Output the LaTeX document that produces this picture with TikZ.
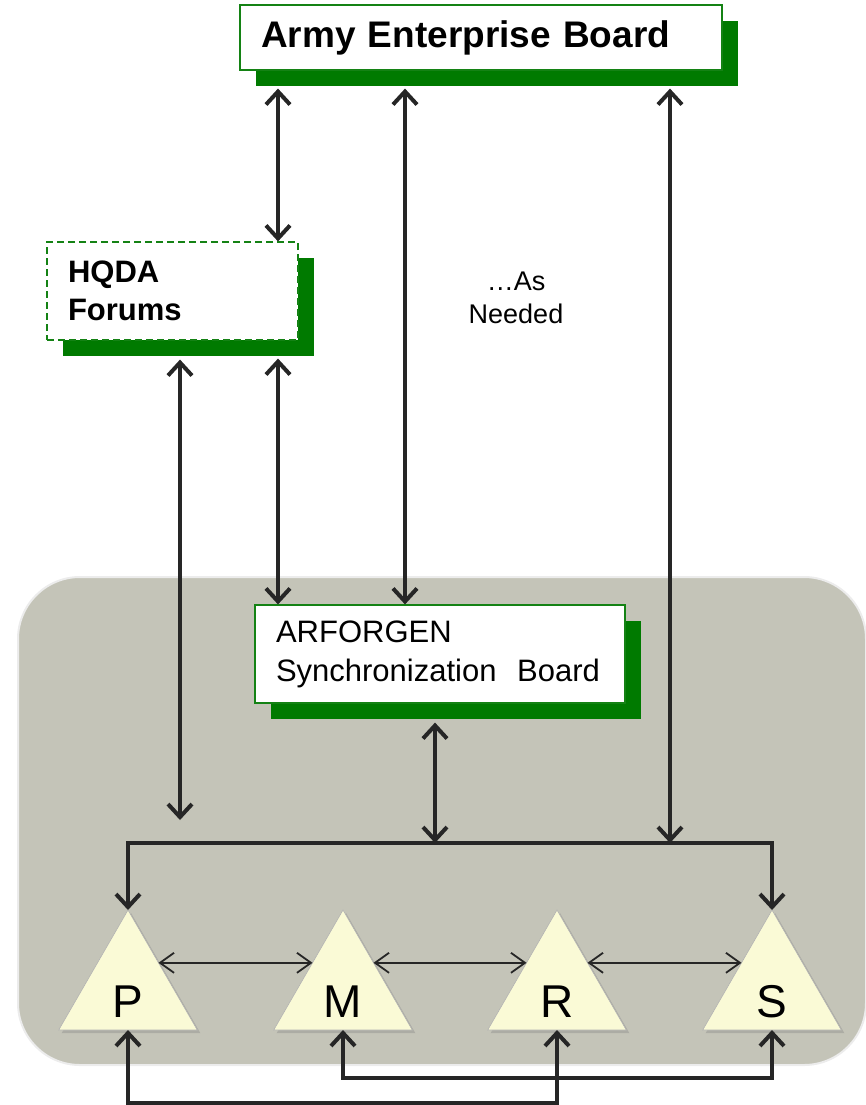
\documentclass[tikz,border=0pt]{standalone}
\usepackage{fontspec}
\setmainfont{Liberation Sans}
\usepackage{tikz}
\usetikzlibrary{arrows.meta, positioning, shapes.geometric, shadows, calc}
\definecolor{boardgreen}{RGB}{20,130,20}
\definecolor{shadegreen}{RGB}{0,122,0}
\definecolor{panelgray}{RGB}{196,196,184}
\definecolor{trifill}{RGB}{250,250,214}
\definecolor{linegray}{RGB}{38,38,38}

\tikzset{
  board/.style={draw=boardgreen, line width=1.2pt, fill=white, align=left,
    inner xsep=21pt, inner ysep=0pt,
    general shadow={fill=shadegreen, shadow xshift=16pt, shadow yshift=-16pt}},
  forum/.style={board, dash pattern=on 7pt off 4pt},
  tri/.style={regular polygon, regular polygon sides=3, minimum size=160pt,
    inner sep=0pt, outer sep=0pt, fill=trifill, draw=gray!60, line width=0.6pt,
    drop shadow={opacity=0.35, shadow xshift=3pt, shadow yshift=-3pt}},
  letter/.style={font=\fontsize{46}{46}\selectfont, yshift=-12pt},
  link/.style={draw=linegray, line width=4pt,
    {Straight Barb[length=13pt,width=24pt]}-{Straight Barb[length=13pt,width=24pt]}},
  peer/.style={draw=linegray, line width=1.8pt,
    {Straight Barb[length=14pt,width=20pt]}-{Straight Barb[length=14pt,width=20pt]}}
}

\begin{document}
\begin{tikzpicture}[x=1pt, y=-1pt]
    \useasboundingbox (0,0) rectangle (865,1105);
    % grey working area
    \fill[panelgray, draw=gray!15, line width=2pt, rounded corners=62pt] (18,577) rectangle (866,1065);

    \node[board, font=\bfseries\fontsize{37}{42}\selectfont, text width=440pt, minimum height=65pt] (AEB) at (481,37.5) {Army Enterprise Board};
    \node[forum, font=\bfseries\fontsize{31}{38}\selectfont, text width=209pt, minimum height=98pt] (HQDA) at (172.5,291) {HQDA\\Forums};
    \node[board, font=\fontsize{31}{39}\selectfont, text width=328pt, minimum height=98pt] (ASB) at (440,654) {ARFORGEN\\Synchronization~ Board};
    \node[font=\fontsize{27}{33}\selectfont, align=center] (N) at (516,298) {…As\\Needed};

    \node[tri, label={[letter]center:P}] (P) at (128,990) {};
    \node[tri, label={[letter]center:M}] (M) at (343,990) {};
    \node[tri, label={[letter]center:R}] (R) at (557,990) {};
    \node[tri, label={[letter]center:S}] (S) at (772,990) {};

    \coordinate (colA) at (180,0);
    \coordinate (colB) at (278,0);
    \coordinate (colC) at (405,0);
    \coordinate (colD) at (435,0);
    \coordinate (colE) at (670,0);
    \coordinate (endA) at (180,820);
    \coordinate (bus) at (435,843);
    \coordinate (lowPR) at (0,1103);
    \coordinate (lowMS) at (0,1078);

    % board links
    \draw[link, shorten <=18pt] (AEB.south -| colB) -- (HQDA.north -| colB);
    \draw[link, shorten <=18pt] (AEB.south -| colC) -- (ASB.north -| colC);
    \draw[link, shorten <=18pt] (AEB.south -| colE) -- (bus -| colE);
    \draw[link, shorten <=19pt] (HQDA.south -| colA) -- (endA);
    \draw[link, shorten <=18pt] (HQDA.south -| colB) -- (ASB.north -| colB);
    \draw[link, shorten <=19pt] (ASB.south -| colD) -- (bus);
    \draw[link] (P.corner 1) |- (bus) -| (S.corner 1);

    % peers
    \draw[peer] ($(P.corner 1)!0.44!(P.corner 3)$) -- ($(M.corner 1)!0.44!(M.corner 2)$);
    \draw[peer] ($(M.corner 1)!0.44!(M.corner 3)$) -- ($(R.corner 1)!0.44!(R.corner 2)$);
    \draw[peer] ($(R.corner 1)!0.44!(R.corner 3)$) -- ($(S.corner 1)!0.44!(S.corner 2)$);

    % bottom links
    \draw[link] (P.south) -- (P.south |- lowPR) -- (R.south |- lowPR) -- (R.south);
    \draw[link] (M.south) -- (M.south |- lowMS) -- (S.south |- lowMS) -- (S.south);
\end{tikzpicture}
\end{document}
